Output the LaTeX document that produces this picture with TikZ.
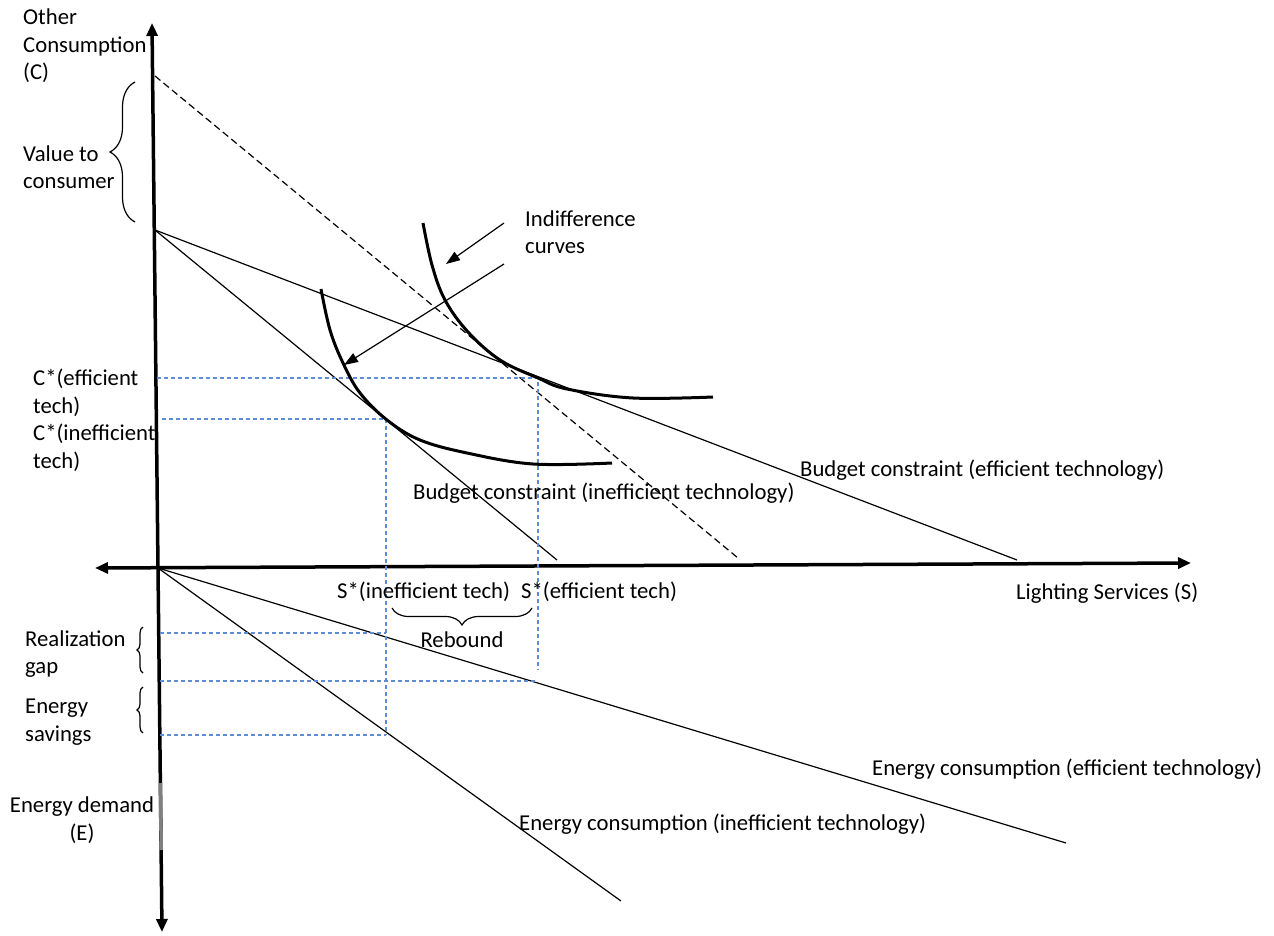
\documentclass[tikz,border=0pt]{standalone}
\usepackage{fontspec}
\setmainfont{Carlito}
\usetikzlibrary{arrows.meta,decorations.pathreplacing}
\definecolor{guide}{RGB}{95,140,215}
\begin{document}
\begin{tikzpicture}[x=1pt,y=-1pt,
  lbl/.style={font=\fontsize{22.7}{27.5}\selectfont, inner sep=0pt, anchor=west, align=left},
  axisline/.style={line width=3.5pt},
  thin/.style={line width=1.2pt},
  budgetdash/.style={line width=1.2pt, dash pattern=on 7pt off 4pt},
  guideline/.style={line width=1.2pt, guide, dash pattern=on 4pt off 3pt},
  icurve/.style={line width=3pt},
  pointer/.style={line width=1.2pt, -{Triangle[length=14pt,width=10pt]}},
  bracedeco/.style={line width=1.2pt, decorate, decoration={brace, amplitude=#1}}
]
\useasboundingbox (0,0) rectangle (1274,936);

% axes
\coordinate (O) at (158,568);
\coordinate (ytop) at (152,23);
\coordinate (ybot) at (162,932);
\coordinate (xl) at (95,568);
\coordinate (xr) at (1191,563);
\draw[axisline, {Triangle[length=13pt,width=11pt]}-{Triangle[length=13pt,width=11pt]}] (ybot) -- (ytop);
\draw[axisline, {Triangle[length=13pt,width=11pt]}-{Triangle[length=13pt,width=11pt]}] (xl) -- (xr);
\coordinate (g1) at (160.5,783);
\coordinate (g2) at (161.2,850);
\draw[axisline, gray] (g1) -- (g2);

% budget lines
\coordinate (B0) at (155,230);
\coordinate (Beff) at (1017,560);
\coordinate (Bineff) at (557,560);
\coordinate (Dtop) at (155,76);
\coordinate (Dend) at (738,558);
\draw[thin] (B0) -- (Beff);
\draw[thin] (B0) -- (Bineff);
\draw[budgetdash] (Dtop) -- (Dend);

% energy lines
\coordinate (Eeff) at (1066,843);
\coordinate (Eineff) at (621,901);
\draw[thin] (O) -- (Eeff);
\draw[thin] (O) -- (Eineff);

% guide lines
\coordinate (c1a) at (157,378); \coordinate (c1b) at (538,378); \coordinate (c1c) at (538,670);
\coordinate (c2a) at (162,419); \coordinate (c2b) at (386,419); \coordinate (c2c) at (386,735);
\coordinate (e1a) at (160,633); \coordinate (e1b) at (386,633);
\coordinate (e2a) at (160,681); \coordinate (e2b) at (535,681);
\coordinate (e3a) at (160,735);
\draw[guideline] (c1a) -- (c1b) -- (c1c);
\draw[guideline] (c2a) -- (c2b) -- (c2c);
\draw[guideline] (e1a) -- (e1b);
\draw[guideline] (e2a) -- (e2b);
\draw[guideline] (e3a) -- (c2c);

% indifference curves
\draw[icurve] plot[smooth, tension=0.6] coordinates {(423,223) (432,265) (445,300) (468,332) (500,360) (538,378) (567,389) (633,398) (713,397)};
\draw[icurve] plot[smooth, tension=0.6] coordinates {(321,289) (330,330) (343,363) (360,393) (387,420) (420,440) (467,453) (533,464) (612,463)};

% labels
\node[lbl] (cLab) at (23,46) {Other\\Consumption\\(C)};
\node[lbl] (vLab) at (23,167) {Value to\\consumer};
\node[lbl] (ceLab) at (33,393) {C*(efficient\\tech)};
\node[lbl] (ciLab) at (33,448) {C*(inefficient\\tech)};
\node[lbl] (rgLab) at (25,654) {Realization\\gap};
\node[lbl] (esLab) at (25,722) {Energy\\savings};
\node[lbl, anchor=center, align=center] (edLab) at (82,820) {Energy demand\\(E)};
\node[lbl] (icLab) at (525,232) {Indifference\\curves};
\node[lbl] (bcI) at (413,493) {Budget constraint (inefficient technology)};
\node[lbl] (bcE) at (800,470) {Budget constraint (efficient technology)};
\node[lbl] (sI) at (337,592) {S*(inefficient tech)};
\node[lbl] (sE) at (521,592) {S*(efficient tech)};
\node[lbl] (lsLab) at (1016,593) {Lighting Services (S)};
\node[lbl, anchor=center] (rbLab) at (462,640) {Rebound};
\node[lbl] (ecE) at (872,769) {Energy consumption (efficient technology)};
\node[lbl] (ecI) at (519,824) {Energy consumption (inefficient technology)};

% pointers
\coordinate (p1s) at (504,223); \coordinate (p1e) at (446,264);
\coordinate (p2s) at (504,264); \coordinate (p2e) at (344,365);
\draw[pointer] (p1s) -- (p1e);
\draw[pointer] (p2s) -- (p2e);

% braces
\coordinate (vb1) at (135,222); \coordinate (vb2) at (135,82);
\draw[bracedeco=25pt] (vb1) -- (vb2);
\coordinate (rb1) at (143,673); \coordinate (rb2) at (143,627);
\draw[bracedeco=6pt] (rb1) -- (rb2);
\coordinate (sb1) at (143,733); \coordinate (sb2) at (143,687);
\draw[bracedeco=6pt] (sb1) -- (sb2);
\coordinate (hb1) at (532,608); \coordinate (hb2) at (392,608);
\draw[bracedeco=17pt] (hb1) -- (hb2);
\end{tikzpicture}
\end{document}
